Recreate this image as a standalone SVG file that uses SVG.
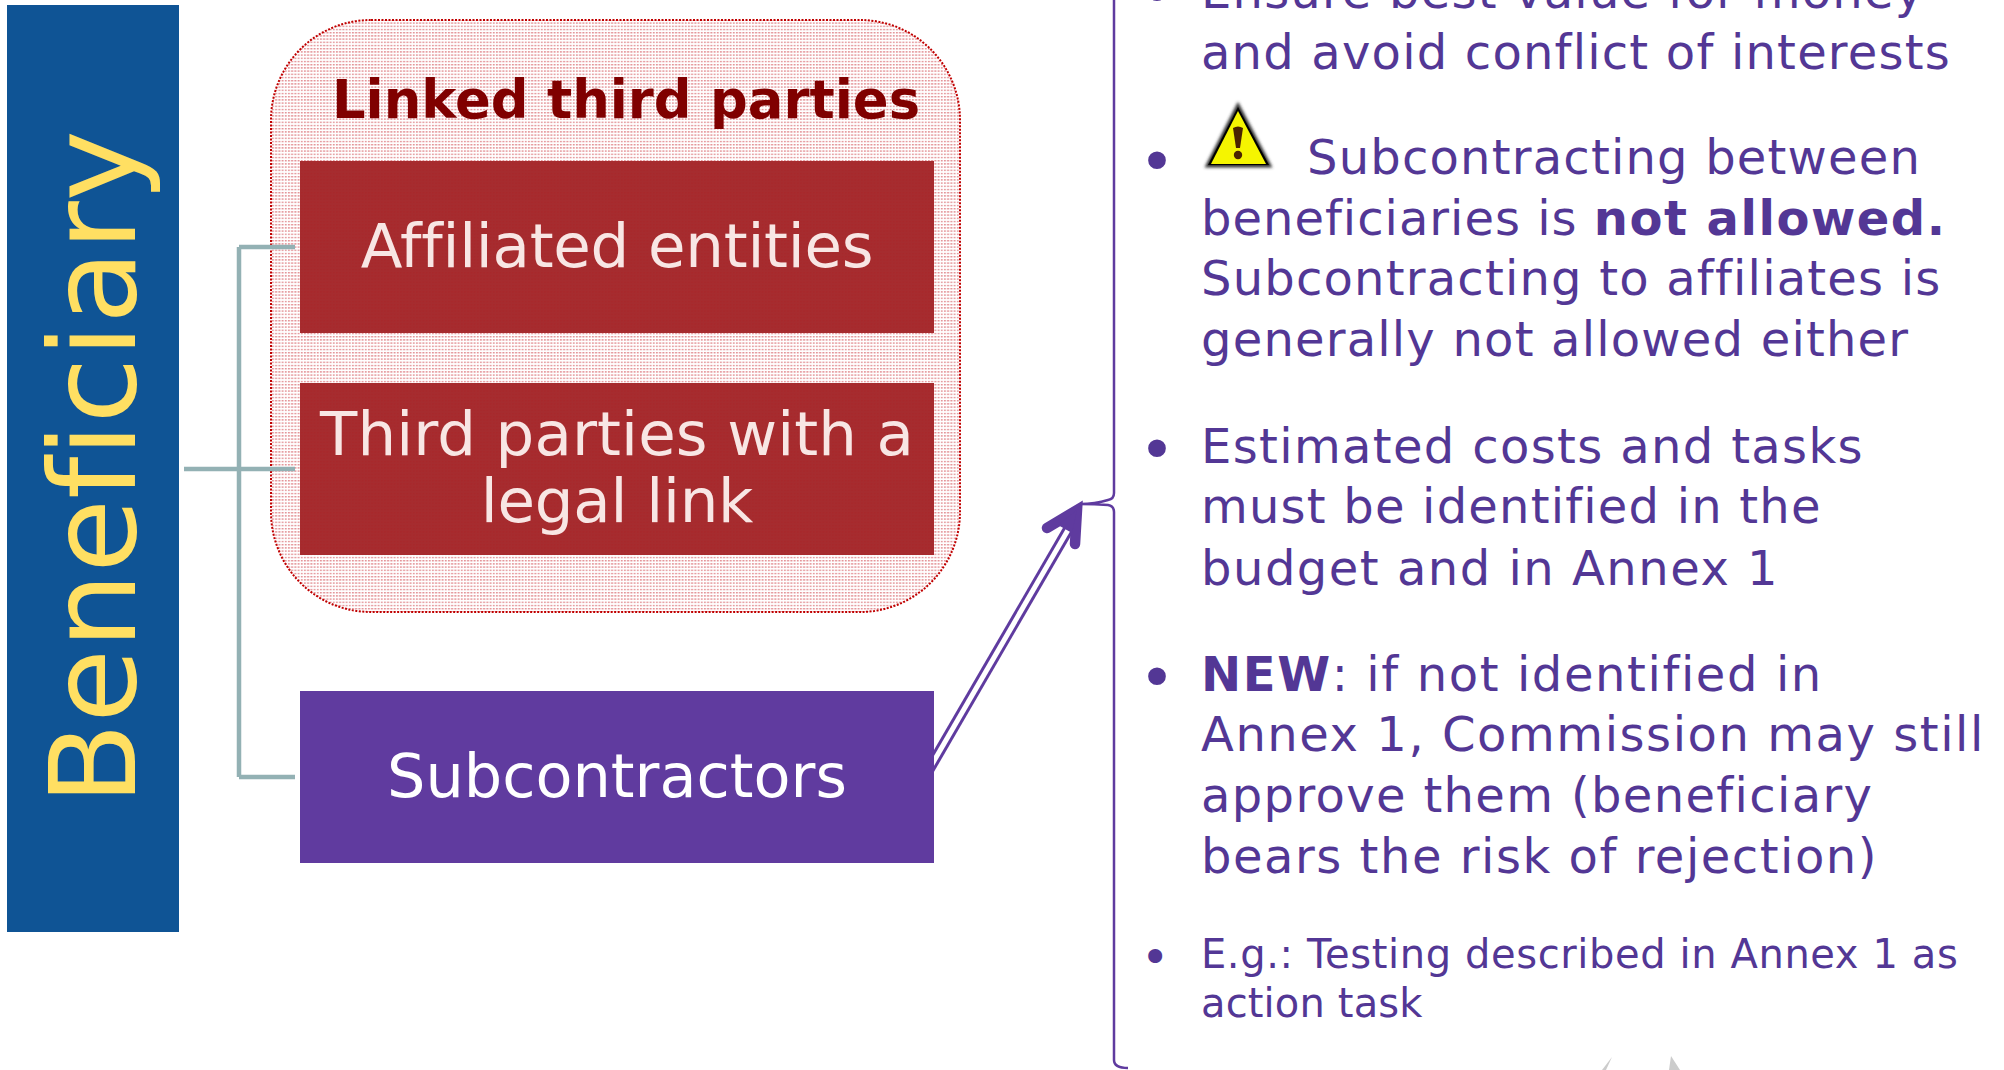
<svg xmlns="http://www.w3.org/2000/svg" width="2004" height="1070" viewBox="0 0 2004 1070">
<style>
text{font-family:"DejaVu Sans",Verdana,sans-serif;font-variant-ligatures:none}
.t{font-size:48px;letter-spacing:1.2px;fill:#533795}
.s{font-size:40px;letter-spacing:.6px;fill:#533795}
.d{font-size:61px;fill:#533795}
.ds{font-size:48px;fill:#533795}
.b{font-weight:bold}
.w{font-size:61px;fill:#F8E6E4;text-anchor:middle}
.c{fill:none;stroke:#93B1B4;stroke-width:4.5}
</style>
<defs>
<pattern id="dots" width="3.2" height="3.2" patternUnits="userSpaceOnUse">
<rect width="3.2" height="3.2" fill="#fff"/>
<rect width="2" height="1.4" fill="#E39397"/>
</pattern>
<pattern id="redfill" width="3.2" height="3.2" patternUnits="userSpaceOnUse">
<rect width="3.2" height="3.2" fill="#A62C2F"/>
<rect width="2" height="1.4" fill="#A8282B"/>
</pattern>
<filter id="blur" x="-20%" y="-20%" width="140%" height="140%"><feGaussianBlur stdDeviation="1.6"/></filter>
</defs>
<rect width="2004" height="1070" fill="#fff"/>
<g id="beneficiary">
<rect x="7" y="5" width="172" height="927" fill="#0F5495"/>
<text transform="translate(135 805) rotate(-90)" font-size="120" fill="#FFDF62">Beneficiary</text>
</g>
<g id="linked-third-parties">
<rect x="271" y="20" width="689" height="592" rx="100" ry="100" fill="url(#dots)" stroke="#C00000" stroke-width="2" stroke-dasharray="2 1.5"/>
<text x="626" y="118" font-size="52.8" font-weight="bold" fill="#800000" text-anchor="middle">Linked third parties</text>
</g>
<g id="connectors">
<path class="c" d="M184 469H295M239 247V777M239 247H295M239 777H295"/>
<path d="M920 785L1068 530" fill="none" stroke="#5F3B9F" stroke-width="11"/>
<path d="M920 785L1068 530" fill="none" stroke="#fff" stroke-width="5"/>
<path d="M1047 528L1077 510L1075 544" fill="none" stroke="#5F3B9F" stroke-width="10.5" stroke-linecap="round" stroke-linejoin="miter"/>
<polygon points="1077,510 1058,525 1072,533" fill="#5F3B9F"/>
</g>
<g id="affiliated-entities">
<rect x="300" y="161" width="634" height="172" fill="url(#redfill)"/>
<text class="w" x="617" y="267" style="letter-spacing:-.27px">Affiliated entities</text>
</g>
<g id="third-parties-legal-link">
<rect x="300" y="383" width="634" height="172" fill="url(#redfill)"/>
<text class="w" x="617" y="455" style="letter-spacing:.1px">Third parties with a</text>
<text class="w" x="617" y="522" style="letter-spacing:-.25px">legal link</text>
</g>
<g id="subcontractors">
<rect x="300" y="691" width="634" height="172" fill="#603B9F"/>
<text x="617" y="797" font-size="60.5" fill="#fff" text-anchor="middle">Subcontractors</text>
</g>
<g id="callout">
<path d="M1114 -5V493Q1114 499 1108 500Q1095 504 1080 504Q1095 504 1108 505Q1114 506 1114 512V1060Q1114 1068 1128 1068" fill="none" stroke="#5F3B9F" stroke-width="2.5"/>
<text class="d" x="1139" y="15">•</text>
<text class="t" x="1201" y="8">Ensure best value for money</text>
<text class="t" x="1201" y="69">and avoid conflict of interests</text>
<text class="d" x="1139" y="183">•</text>
<text class="t" x="1307" y="174">Subcontracting between</text>
<text class="t" x="1201" y="235" style="letter-spacing:1px">beneficiaries is <tspan class="b" style="letter-spacing:1.5px">not allowed.</tspan></text>
<text class="t" x="1201" y="295">Subcontracting to affiliates is</text>
<text class="t" x="1201" y="356">generally not allowed either</text>
<text class="d" x="1139" y="471">•</text>
<text class="t" x="1201" y="463" style="letter-spacing:1.35px">Estimated costs and tasks</text>
<text class="t" x="1201" y="523">must be identified in the</text>
<text class="t" x="1201" y="585" style="letter-spacing:1.5px">budget and in Annex 1</text>
<text class="d" x="1139" y="699">•</text>
<text class="t" x="1201" y="691" style="letter-spacing:1.6px"><tspan class="b">NEW</tspan>: if not identified in</text>
<text class="t" x="1201" y="751" style="letter-spacing:1.55px">Annex 1, Commission may still</text>
<text class="t" x="1201" y="812" style="letter-spacing:1.35px">approve them (beneficiary</text>
<text class="t" x="1201" y="873" style="letter-spacing:1.53px">bears the risk of rejection)</text>
<text class="ds" x="1141" y="974">•</text>
<text class="s" x="1201" y="968">E.g.: Testing described in Annex 1 as</text>
<text class="s" x="1201" y="1017" style="letter-spacing:.14px">action task</text>
</g>
<g id="warning-icon">
<polygon points="1238,105 1207,166 1270,166" fill="#333" stroke="#333" stroke-width="3" filter="url(#blur)"/>
<polygon points="1238,107 1208,165 1269,165" fill="#000"/>
<polygon points="1238,111 1211,164 1266,164" fill="#F5F500"/>
<path d="M1233 128Q1238 125 1243 128L1240 148H1236Z" fill="#4A2400"/>
<circle cx="1238" cy="155" r="4.2" fill="#4A2400"/>
</g>
<g id="bottom-fragment">
<polygon points="1612,1057 1602,1070 1606,1070" fill="#CCC"/>
<polygon points="1671,1056 1669,1070 1680,1070" fill="#CCC"/>
</g>
</svg>
